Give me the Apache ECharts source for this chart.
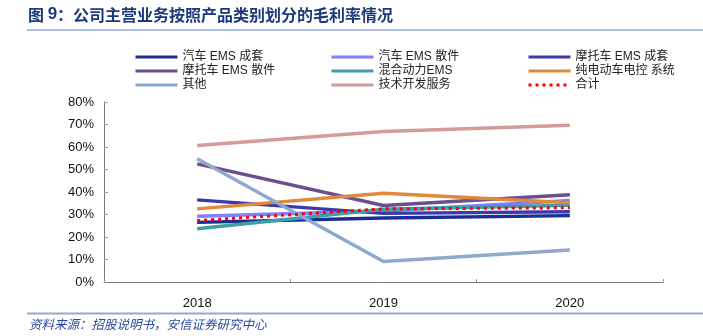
<!DOCTYPE html>
<html>
<head>
<meta charset="utf-8">
<script src="https://cdn.jsdelivr.net/npm/echarts@6/dist/echarts.min.js"></script>
<style>html,body{margin:0;padding:0;background:#fff;}#c{width:703px;height:336px;}</style>
</head>
<body>
<div id="c"></div>
<script>
const categories = ['2018', '2019', '2020'];
const yTicks = [0, 10, 20, 30, 40, 50, 60, 70, 80];
const autoKit = [26.5, 28.4, 29.5];        // 汽车 EMS 成套
const autoParts = [29.2, 31.6, 36.2];      // 汽车 EMS 散件
const motoKit = [36.5, 30.5, 31.2];        // 摩托车 EMS 成套
const motoParts = [52.5, 34.0, 38.8];      // 摩托车 EMS 散件
const hybrid = [23.7, 32.3, 34.1];         // 混合动力EMS
const evCtrl = [32.5, 39.4, 35.2];         // 纯电动车电控 系统
const others = [54.8, 9.1, 14.2];          // 其他
const techService = [60.7, 66.9, 69.7];    // 技术开发服务
const total = [27.3, 32.5, 33.0];          // 合计

const names = ['汽车 EMS 成套','汽车 EMS 散件','摩托车 EMS 成套','摩托车 EMS 散件','混合动力EMS','纯电动车电控 系统','其他','技术开发服务','合计'];
const values = [autoKit, autoParts, motoKit, motoParts, hybrid, evCtrl, others, techService, total];
const colors = ['#1b2d8e','#8080ff','#3a3aae','#6b4f8e','#3c9fa9','#e0883c','#8fa8cd','#d59a9a','#ff0000'];

const series = names.map((n, i) => ({
  name: n, type: 'line', data: values[i], symbol: 'none', showSymbol: false,
  lineStyle: { color: colors[i], width: i === 8 ? 3 : 3.5, type: i === 8 ? [3, 4] : 'solid', cap: 'butt' },
  itemStyle: { color: colors[i] },
  z: 2 + i, animation: false
}));

const legendText = { fontSize: 12, color: '#222', fontFamily: 'Liberation Sans, Noto Sans CJK SC, sans-serif' };
function mkLegend(left, data) {
  return { orient: 'vertical', left: left, top: 51, itemWidth: 42, itemHeight: 12, itemGap: 2,
    textStyle: legendText, data: data, padding: 0, selectedMode: false,
    itemStyle: { opacity: 0 }, lineStyle: { width: 3 } };
}

const chart = echarts.init(document.getElementById('c'), null, { renderer: 'canvas' });
chart.setOption({
  animation: false,
  backgroundColor: '#fff',
  title: {
    left: 28, top: 6, padding: 0,
    text: '{a|图 }{b|9}{a|：公司主营业务按照产品类别划分的毛利率情况}',
    textStyle: { rich: {
      a: { fontSize: 16, color: '#1c3a7a', fontWeight: 'bold', fontFamily: 'Noto Sans CJK SC, sans-serif' },
      b: { fontSize: 17, color: '#1c3a7a', fontWeight: 'bold', fontFamily: 'Liberation Sans, sans-serif' }
    } }
  },
  legend: [
    mkLegend(134, [names[0], names[3], names[6]]),
    mkLegend(330, [names[1], names[4], names[7]]),
    mkLegend(527, [names[2], names[5], names[8]])
  ],
  grid: { left: 104, right: 40, top: 102, bottom: 54, containLabel: false },
  xAxis: {
    type: 'category', data: categories, boundaryGap: true,
    axisLine: { lineStyle: { color: '#777', width: 1 } },
    axisTick: { show: true, inside: true, length: 3, lineStyle: { color: '#999' } },
    axisLabel: { margin: 15, fontSize: 13, color: '#111', fontFamily: 'Liberation Sans, Arial, sans-serif' }
  },
  yAxis: {
    type: 'value', min: yTicks[0], max: yTicks[yTicks.length - 1], interval: 10,
    axisLine: { show: true, lineStyle: { color: '#777', width: 1 } },
    axisTick: { show: true, inside: true, length: 4, lineStyle: { color: '#999' } },
    splitLine: { show: false },
    axisLabel: { margin: 10, fontSize: 13, color: '#111', fontFamily: 'Liberation Sans, Arial, sans-serif', formatter: v => v + '%' }
  },
  series: series,
  graphic: [
    { type: 'line', shape: { x1: 27, y1: 30, x2: 703, y2: 30 }, style: { stroke: '#5a7acb', lineWidth: 1 }, silent: true },
    { type: 'line', shape: { x1: 27, y1: 313.5, x2: 703, y2: 313.5 }, style: { stroke: '#98a8cc', lineWidth: 2 }, silent: true },
    { type: 'text', left: 29, top: 318, style: { text: '资料来源：招股说明书，安信证券研究中心', fill: '#2a4a9e', font: 'italic 12.5px "Noto Sans CJK SC", sans-serif' }, silent: true }
  ]
});
</script>
</body>
</html>
